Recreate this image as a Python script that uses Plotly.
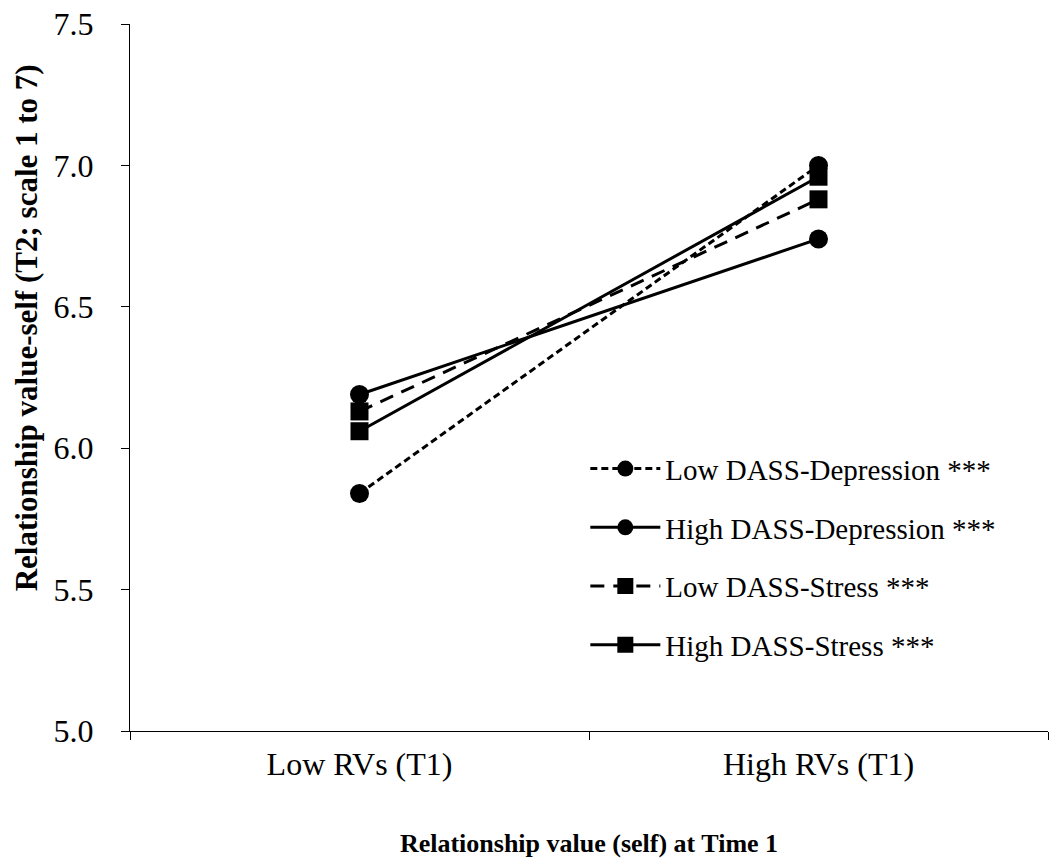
import plotly.graph_objects as go

# Categories on the x axis (relationship value at Time 1)
categories = ["Low RVs (T1)", "High RVs (T1)"]

# Estimated T2 relationship value-self for each moderator group
low_dep = [5.84, 7.00]
high_dep = [6.19, 6.74]
low_stress = [6.13, 6.88]
high_stress = [6.06, 6.96]

series_names = [
    "Low DASS-Depression ***",
    "High DASS-Depression ***",
    "Low DASS-Stress ***",
    "High DASS-Stress ***",
]

y_title = "Relationship value-self (T2; scale 1 to 7)"
x_title = "Relationship value (self) at Time 1"

FONT = "Liberation Serif, Times New Roman, serif"

styles = [
    dict(dash="7px,4px", symbol="circle"),
    dict(dash="solid", symbol="circle"),
    dict(dash="14px,9px", symbol="square"),
    dict(dash="solid", symbol="square"),
]

fig = go.Figure()
for i, (name, vals, st) in enumerate(zip(series_names,
                                         [low_dep, high_dep, low_stress, high_stress],
                                         styles)):
    fig.add_trace(go.Scatter(
        x=categories, y=vals, name=name, mode="lines+markers",
        line=dict(color="black", width=3, dash=st["dash"]),
        marker=dict(color="black", size=19 if st["symbol"] == "circle" else 18,
                    symbol=st["symbol"]),
        legendgroup=f"g{i}",
    ))

# Vertical axis title, placed as rotated text left of the tick labels
fig.add_annotation(
    text=f"<b>{y_title}</b>", textangle=-90,
    xref="paper", yref="paper", x=-0.1133, y=0.571,
    xanchor="center", yanchor="middle", showarrow=False,
    font=dict(family=FONT, size=31, color="black"),
)

fig.update_layout(
    width=1049, height=867,
    margin=dict(l=130, r=1, t=24, b=136),
    paper_bgcolor="white", plot_bgcolor="white",
    font=dict(family=FONT, color="black", size=32),
    showlegend=True,
    legend=dict(
        x=0.496, y=0.407, xanchor="left", yanchor="top",
        font=dict(family=FONT, size=29, color="black"),
        bgcolor="rgba(0,0,0,0)", traceorder="grouped", tracegroupgap=18,
        itemwidth=70,
    ),
    xaxis=dict(
        type="category", tickson="boundaries", ticks="outside", ticklen=8,
        tickcolor="black", showline=True, linecolor="black", linewidth=1,
        showgrid=False, zeroline=False, range=[-0.5, 1.5],
        tickfont=dict(family=FONT, size=32), ticklabelstandoff=5,
        title=dict(text=f"<b>{x_title}</b>",
                   font=dict(family=FONT, size=26), standoff=52),
    ),
    yaxis=dict(
        range=[5.0, 7.5], dtick=0.5, tickformat=".1f", ticks="outside",
        ticklen=8, tickcolor="black", showline=True, linecolor="black",
        linewidth=1, showgrid=False, zeroline=False,
        tickfont=dict(family=FONT, size=32), ticklabelstandoff=21,
    ),
)

fig.write_html("out.html")
